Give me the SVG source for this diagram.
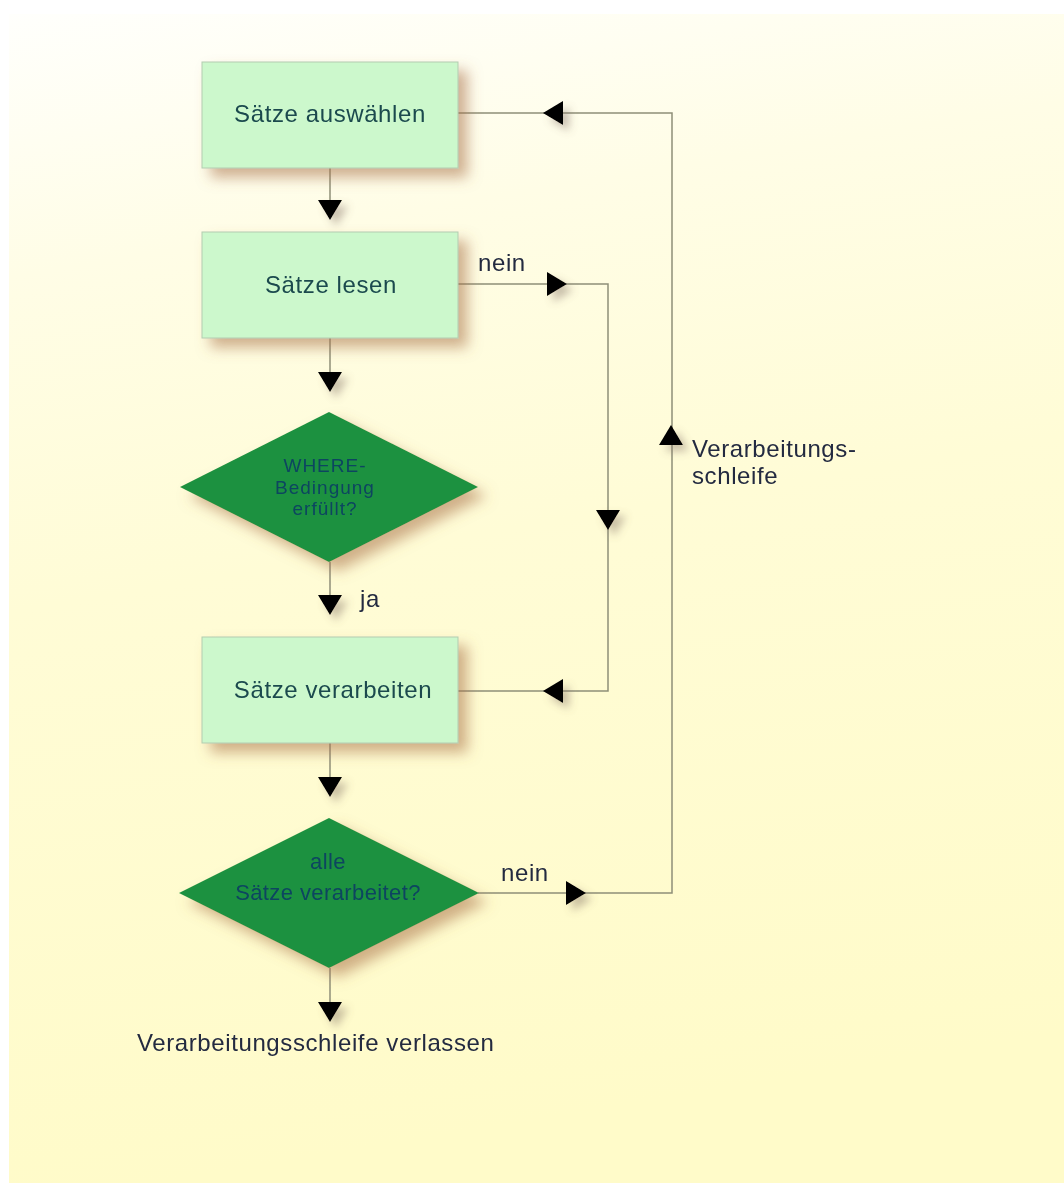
<svg xmlns="http://www.w3.org/2000/svg" width="1064" height="1184" viewBox="0 0 1064 1184">
<defs>
<linearGradient id="bg" x1="0" y1="0" x2="0.15" y2="1">
<stop offset="0" stop-color="#fffffc"/>
<stop offset="0.22" stop-color="#fffde6"/>
<stop offset="0.5" stop-color="#fffcd6"/>
<stop offset="1" stop-color="#fffbc9"/>
</linearGradient>
<filter id="sh" x="-20%" y="-20%" width="150%" height="160%">
<feDropShadow dx="9" dy="9" stdDeviation="7" flood-color="#a8704a" flood-opacity="0.55"/>
</filter>
<filter id="ash" x="-50%" y="-50%" width="250%" height="250%">
<feDropShadow dx="6" dy="6" stdDeviation="4" flood-color="#807060" flood-opacity="0.45"/>
</filter>
<path id="tri" d="M-12,-20 L12,-20 L0,0 Z"/>
</defs>
<style>
.box{fill:#ccf8cc;stroke:#b4ccb0;stroke-width:1}
.dia{fill:#1f9140}
.bt{font-family:"Liberation Sans",Arial,sans-serif;font-size:24px;fill:#1a4a4e;text-anchor:middle;letter-spacing:0.6px}
.dt{font-family:"Liberation Sans",Arial,sans-serif;font-size:19px;fill:#0b4560;text-anchor:middle;letter-spacing:1px}
.dt2{font-family:"Liberation Sans",Arial,sans-serif;font-size:22px;fill:#0b4560;text-anchor:middle;letter-spacing:0.4px}
.lb{font-family:"Liberation Sans",Arial,sans-serif;font-size:24px;fill:#232a40;letter-spacing:0.6px}
.ln{fill:none;stroke:#8f8f78;stroke-width:1.5}
.ah{fill:#000}
</style>
<rect x="0" y="0" width="1064" height="1184" fill="#ffffff"/>
<rect x="9" y="14" width="1055" height="1169" fill="url(#bg)"/>

<g id="connectors">
<g class="ln">
<path d="M330,168 V204"/>
<path d="M330,338 V374"/>
<path d="M330,562 V598"/>
<path d="M330,743 V780"/>
<path d="M330,968 V1004"/>
<path d="M458,113 H672 V893 H478"/>
<path d="M458,284 H608 V691 H458"/>
</g>
<g class="ah" filter="url(#ash)">
<use href="#tri" transform="translate(330,220)"/>
<use href="#tri" transform="translate(330,392)"/>
<use href="#tri" transform="translate(330,615)"/>
<use href="#tri" transform="translate(330,797)"/>
<use href="#tri" transform="translate(330,1022)"/>
<use href="#tri" transform="translate(608,530)"/>
<use href="#tri" transform="translate(671,425) rotate(180)"/>
<use href="#tri" transform="translate(543,113) rotate(90)"/>
<use href="#tri" transform="translate(543,691) rotate(90)"/>
<use href="#tri" transform="translate(567,284) rotate(-90)"/>
<use href="#tri" transform="translate(586,893) rotate(-90)"/>
</g>
<text class="lb" x="478" y="271">nein</text>
<text class="lb" x="501" y="881">nein</text>
<text class="lb" x="360" y="607">ja</text>
<text class="lb" x="692" y="457">Verarbeitungs-</text>
<text class="lb" x="692" y="484">schleife</text>
<text class="lb" x="137" y="1051">Verarbeitungsschleife verlassen</text>
</g>

<g id="n1" filter="url(#sh)">
<rect class="box" x="202" y="62" width="256" height="106"/>
<text class="bt" x="330" y="122">Sätze auswählen</text>
</g>
<g id="n2" filter="url(#sh)">
<rect class="box" x="202" y="232" width="256" height="106"/>
<text class="bt" x="331" y="293">Sätze lesen</text>
</g>
<g id="n3" filter="url(#sh)">
<polygon class="dia" points="329,412 478,487 329,562 180,487"/>
<text class="dt" x="325" y="472">WHERE-</text>
<text class="dt" x="325" y="493.5">Bedingung</text>
<text class="dt" x="325" y="515">erfüllt?</text>
</g>
<g id="n4" filter="url(#sh)">
<rect class="box" x="202" y="637" width="256" height="106"/>
<text class="bt" x="333" y="698">Sätze verarbeiten</text>
</g>
<g id="n5" filter="url(#sh)">
<polygon class="dia" points="329,818 479,893 329,968 179,893"/>
<text class="dt2" x="328" y="869">alle</text>
<text class="dt2" x="328" y="900">Sätze verarbeitet?</text>
</g>
</svg>
